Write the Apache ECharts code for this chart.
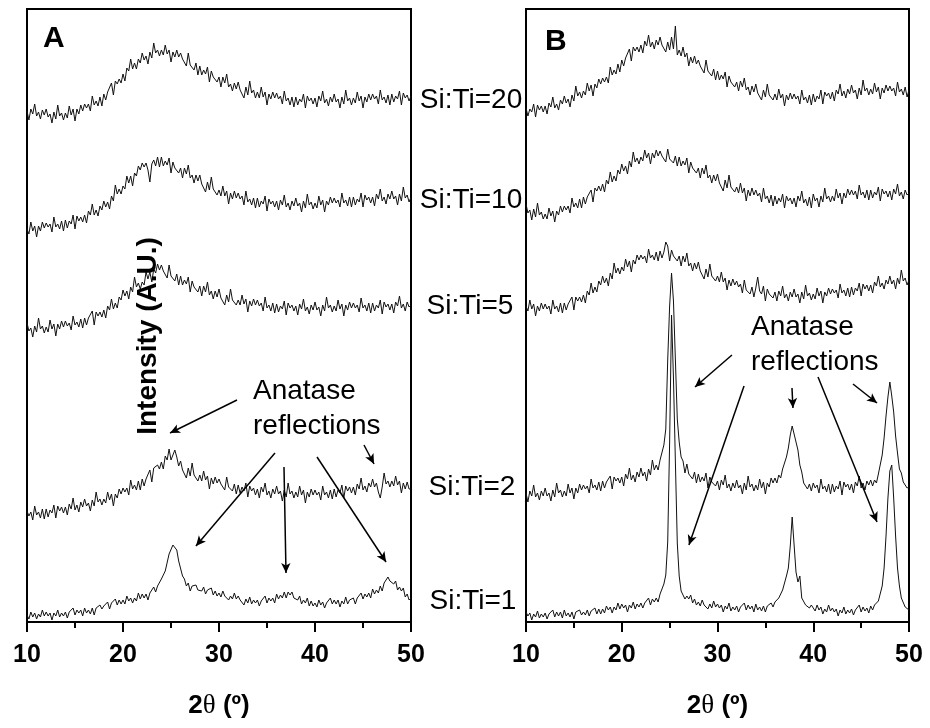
<!DOCTYPE html>
<html>
<head>
<meta charset="utf-8">
<script src="https://cdn.jsdelivr.net/npm/echarts@6.0.0/dist/echarts.min.js"></script>
<style>
  html, body { margin: 0; padding: 0; background: #fff; }
  #chart { width: 930px; height: 728px; }
</style>
</head>
<body>
<div id="chart"></div>
<script>
// XRD patterns, 2θ from 10° to 50° in 0.2° steps; intensities in arbitrary units
// (each curve already carries its vertical stacking offset).
const ANGLE_START = 10;
const ANGLE_STEP = 0.2;
const xTicks = [10, 20, 30, 40, 50];

// ---- Panel A ----
const aSiTi20 = [
  511,502,513,508,518,506,510,503,512,507,
  513,505,508,499,510,503,517,506,509,502,
  509,504,516,507,513,501,513,508,517,511,
  518,514,518,511,526,517,521,516,525,516,
  528,522,530,529,539,527,541,538,543,539,
  548,541,554,551,563,553,559,553,563,559,
  569,562,566,558,570,564,579,569,572,566,
  572,567,577,568,572,560,570,565,572,565,
  569,563,565,556,569,557,559,552,559,547,
  556,547,552,548,555,540,551,545,547,540,
  545,535,545,539,548,535,538,531,539,533,
  540,532,534,524,535,527,541,529,532,524,
  530,524,535,525,530,517,528,523,530,524,
  529,523,526,518,531,521,524,517,525,515,
  525,517,523,520,528,514,526,521,524,518,
  524,515,526,521,531,519,523,516,525,520,
  528,520,523,514,525,518,532,521,524,517,
  524,519,530,521,526,514,525,520,528,522,
  528,523,526,518,532,522,525,519,527,517,
  528,520,526,523,531,517,529,524,527,521,
  526
];
const aSiTi10 = [
  393,388,400,391,396,385,396,391,400,394,
  399,395,398,390,405,395,398,393,401,391,
  402,394,401,398,407,393,406,401,405,400,
  407,399,411,407,418,407,412,406,416,412,
  421,415,420,413,426,421,437,428,433,428,
  436,433,446,439,446,436,449,446,456,452,
  459,455,459,452,440,458,462,456,465,455,
  465,456,461,457,464,449,460,454,456,449,
  454,444,454,448,457,444,447,439,447,441,
  447,438,440,430,440,432,445,433,435,427,
  432,426,436,426,431,418,429,423,431,424,
  429,423,426,417,431,420,423,417,424,414,
  424,415,421,418,426,411,423,418,421,415,
  421,412,422,417,427,415,419,412,421,416,
  424,416,419,410,421,414,428,417,420,413,
  419,414,426,417,422,410,421,417,425,419,
  424,419,422,415,429,419,422,416,425,415,
  425,417,423,420,429,415,427,422,425,419,
  425,416,428,423,433,421,425,418,428,423,
  431,423,426,417,428,421,435,424,427,420,
  425
];
const aSiTi5 = [
  299,291,294,285,296,290,304,293,296,289,
  295,290,302,293,298,286,298,293,301,295,
  301,296,299,292,306,297,300,295,303,294,
  304,297,304,302,311,297,310,306,310,305,
  312,304,316,312,323,313,319,314,325,322,
  332,326,331,323,335,330,345,335,339,333,
  340,337,350,343,350,340,353,349,358,352,
  357,351,353,344,357,346,348,341,348,337,
  346,337,342,338,345,330,341,335,337,330,
  336,326,336,330,340,327,331,323,331,325,
  333,324,326,317,327,320,333,322,324,317,
  322,317,327,318,323,310,321,316,323,317,
  322,316,319,311,325,314,317,311,319,309,
  318,310,316,313,321,307,319,314,317,311,
  316,307,318,313,323,311,315,308,317,312,
  320,312,315,306,317,311,325,314,317,310,
  316,311,322,313,318,306,317,312,320,314,
  319,314,317,310,324,314,317,311,319,309,
  319,311,317,314,322,308,320,315,318,312,
  318,309,320,316,326,314,318,311,320,315,
  317
];
const aSiTi2 = [
  111,106,110,102,116,107,110,104,113,103,
  113,105,112,109,117,104,116,111,115,109,
  115,107,118,113,124,112,117,110,120,115,
  123,116,119,111,122,116,130,120,123,117,
  123,119,130,122,128,116,128,124,133,128,
  134,130,134,127,142,133,137,132,141,132,
  143,136,143,142,152,140,154,152,157,153,
  160,153,166,162,173,162,167,172,165,156,
  161,152,154,144,154,146,159,147,149,141,
  147,141,151,142,146,133,144,138,145,139,
  143,138,140,132,145,135,137,131,138,128,
  137,129,135,131,139,125,136,131,134,127,
  133,124,135,130,139,127,131,124,133,128,
  136,128,131,121,132,125,139,128,131,124,
  130,125,136,127,132,119,130,125,133,127,
  132,127,130,122,136,127,130,124,132,123,
  133,125,132,129,137,124,136,131,135,129,
  135,127,138,133,144,132,136,130,139,135,
  143,135,139,130,124,135,149,138,141,135,
  141,136,146,137,141,129,139,133,140,133,
  133
];
const aSiTi1 = [
  7,3,10,5,9,3,8,5,12,6,
  10,6,9,2,9,6,12,5,9,6,
  10,4,10,8,14,7,12,9,12,6,
  14,9,12,8,14,7,14,12,17,13,
  16,14,20,13,19,18,23,17,22,18,
  22,18,26,21,24,19,24,21,29,23,
  28,24,28,22,29,27,35,30,36,36,
  43,42,51,53,68,70,77,79,72,61,
  60,46,43,36,39,31,36,34,37,32,
  34,31,35,28,32,30,34,27,31,26,
  29,25,31,26,28,22,26,23,29,23,
  26,22,24,17,23,19,25,18,22,19,
  22,16,21,19,26,19,24,21,24,19,
  28,23,27,24,30,24,30,27,30,24,
  26,22,26,18,22,19,24,16,21,16,
  19,15,22,17,20,14,19,17,24,18,
  22,18,22,15,21,18,25,18,22,20,
  24,18,24,22,29,23,28,25,29,24,
  33,28,32,29,36,31,39,39,45,41,
  43,38,41,32,35,31,34,25,28,22,
  24
];

// ---- Panel B ----
const bSiTi20 = [
  514,506,513,510,518,505,517,512,516,510,
  516,508,519,515,525,514,518,512,522,518,
  526,519,523,515,527,521,536,526,530,524,
  531,527,539,531,537,526,538,534,543,538,
  544,540,545,539,555,547,552,548,558,550,
  562,556,564,563,573,561,575,571,575,570,
  577,569,581,576,587,575,580,573,582,577,
  585,577,579,570,580,572,585,573,596,567,
  572,566,575,565,569,556,565,559,566,558,
  562,556,558,549,562,551,553,546,553,542,
  551,542,547,543,550,535,546,540,542,535,
  540,531,541,535,544,532,535,527,536,530,
  538,529,531,522,532,525,538,527,529,522,
  528,522,533,524,528,516,527,522,529,523,
  528,523,526,518,532,522,525,519,527,517,
  528,520,526,523,532,518,530,526,529,523,
  530,521,532,528,538,526,531,524,533,528,
  537,529,532,523,534,527,542,531,534,527,
  533,528,539,530,535,523,534,529,537,531,
  536,531,534,526,540,530,533,527,535,525,
  532
];
const bSiTi10 = [
  418,409,412,402,413,405,419,407,410,403,
  408,403,414,406,411,400,411,407,416,410,
  416,412,416,409,424,415,419,414,423,414,
  425,418,425,423,432,420,434,431,436,431,
  438,430,442,438,450,440,446,441,452,448,
  458,451,456,448,461,455,470,460,464,458,
  465,461,472,464,469,458,469,464,472,466,
  471,466,468,460,473,463,465,459,466,456,
  465,456,461,457,464,449,460,454,456,449,
  454,444,454,448,457,444,447,439,447,441,
  448,439,441,431,442,434,447,435,437,430,
  435,429,439,429,434,421,432,426,434,427,
  432,426,429,420,434,423,426,419,427,416,
  426,418,424,420,428,414,426,421,424,418,
  424,415,426,421,431,419,423,416,425,414,
  428,421,424,415,426,420,434,423,426,420,
  426,421,433,424,429,418,429,424,433,427,
  432,427,431,423,437,427,430,424,432,422,
  432,424,430,427,435,421,433,428,431,425,
  431,422,433,428,438,426,430,423,432,427,
  429
];
const bSiTi5 = [
  316,311,322,313,318,306,316,311,319,313,
  318,313,316,308,322,313,316,310,319,309,
  319,312,318,316,325,312,325,321,325,320,
  327,319,331,327,339,329,335,330,341,337,
  346,339,344,336,349,343,359,349,354,348,
  355,351,363,355,361,350,362,358,367,362,
  367,363,366,359,373,364,367,362,370,361,
  371,364,370,380,376,361,372,366,368,361,
  366,356,366,360,369,356,359,351,359,353,
  360,351,353,343,353,345,358,346,348,341,
  346,340,350,340,344,332,342,336,343,337,
  341,335,338,329,342,332,334,328,335,325,
  334,345,331,328,336,321,333,328,330,324,
  330,321,331,326,336,324,328,321,330,325,
  333,325,328,319,330,323,337,326,329,322,
  328,323,334,326,331,319,330,326,334,328,
  333,329,332,324,338,329,332,326,334,325,
  335,327,334,331,339,326,338,333,337,331,
  337,329,340,336,346,335,339,333,342,338,
  346,338,342,333,344,338,352,341,344,337,
  342
];
const bSiTi2 = [
  129,120,131,126,137,125,129,122,131,126,
  134,126,129,121,132,125,139,129,132,125,
  131,126,138,129,134,123,134,129,138,132,
  137,133,136,129,143,134,137,132,140,131,
  141,134,140,138,146,133,145,141,144,139,
  145,136,148,143,154,142,147,140,150,145,
  154,146,150,141,153,147,162,152,157,152,
  162,164,177,193,262,316,349,321,263,203,
  180,165,161,149,158,148,150,143,150,139,
  148,140,145,141,149,134,145,140,142,136,
  141,132,142,137,147,134,138,131,139,134,
  142,134,137,128,139,132,146,135,138,131,
  137,132,143,134,140,128,139,135,144,139,
  144,139,147,144,153,154,165,174,187,196,
  195,180,172,157,150,139,140,133,138,131,
  139,134,137,129,143,133,136,130,138,128,
  138,130,136,133,141,127,140,135,138,132,
  138,129,140,136,146,134,139,132,141,137,
  142,136,142,139,148,150,167,184,206,225,
  240,226,210,186,169,153,149,140,141,134,
  135
];
const bSiTi1 = [
  10,6,9,2,8,5,11,4,8,5,
  9,3,8,6,12,5,10,6,10,4,
  12,6,9,5,10,3,10,8,12,7,
  10,7,12,6,11,9,14,8,13,8,
  13,9,16,12,15,9,15,12,19,13,
  18,14,17,10,17,14,20,13,18,15,
  19,14,19,17,24,17,23,20,24,20,
  28,29,38,47,80,180,307,244,161,79,
  46,31,32,23,26,23,27,19,23,17,
  20,16,22,17,19,13,18,14,21,15,
  18,14,17,10,16,13,19,11,15,12,
  16,10,15,13,19,12,17,13,16,10,
  18,12,15,11,16,10,16,14,19,15,
  20,18,24,24,32,32,46,54,76,105,
  77,50,40,46,24,22,17,19,14,17,
  15,11,17,12,15,8,13,10,17,11,
  14,10,13,6,12,9,15,8,12,9,
  13,7,12,10,17,10,15,11,14,9,
  16,12,17,15,21,22,36,54,86,124,
  151,157,124,86,54,36,24,22,15,13,
  12
];

const sampleLabels = ['Si:Ti=20', 'Si:Ti=10', 'Si:Ti=5', 'Si:Ti=2', 'Si:Ti=1'];

// Annotation arrows, [2θ, intensity] start -> end
const arrowsA = [
  [[35.83, 169], [27.6, 76]],
  [[36.77, 155], [36.98, 49]],
  [[40.21, 165], [47.4, 60]],
  [[45.1, 177], [46.15, 158]]
];
const curvedArrowA = [[31.875, 222], [24.9, 189]];
const arrowsB = [
  [[31.51, 267], [27.65, 235]],
  [[32.77, 236], [27.02, 77]],
  [[37.78, 234], [37.88, 214]],
  [[40.5, 245], [46.66, 100]],
  [[44.15, 238], [46.66, 219]]
];

const angles = aSiTi20.map((_, i) => +(ANGLE_START + i * ANGLE_STEP).toFixed(1));

const SANS = '"Liberation Sans", Arial, Helvetica, sans-serif';
const SERIF = '"Liberation Serif", "DejaVu Serif", serif';

function trace(values, idx) {
  return {
    type: 'line',
    xAxisIndex: idx,
    yAxisIndex: idx,
    data: values.map((v, i) => [angles[i], v]),
    showSymbol: false,
    symbol: 'none',
    silent: true,
    lineStyle: { color: '#111', width: 1 },
    z: 2
  };
}

function arrowLines(list) {
  return list.map(p => [{ coord: p[0] }, { coord: p[1] }]);
}

function xAxisFor(idx) {
  return {
    type: 'value',
    gridIndex: idx,
    min: xTicks[0],
    max: xTicks[xTicks.length - 1],
    interval: xTicks[1] - xTicks[0],
    axisLine: { show: true, lineStyle: { color: '#000', width: 2 } },
    axisTick: { show: true, length: 10, lineStyle: { color: '#000', width: 2 } },
    minorTick: { show: true, splitNumber: 2, length: 6, lineStyle: { color: '#000', width: 2 } },
    splitLine: { show: false },
    minorSplitLine: { show: false },
    axisLabel: {
      color: '#000', fontSize: 25, fontWeight: 'bold', fontFamily: SANS,
      margin: 21, showMinLabel: true, showMaxLabel: true
    },
    name: '{b|2}{t|θ}{b| (º)}',
    nameLocation: 'middle',
    nameGap: 70,
    nameTextStyle: {
      rich: {
        b: { fontSize: 26, fontWeight: 'bold', fontFamily: SANS, color: '#000' },
        t: { fontSize: 27, fontFamily: SERIF, color: '#000' }
      }
    }
  };
}

function yAxisFor(idx) {
  return { type: 'value', gridIndex: idx, min: 0, max: 613, show: false };
}

const markStyle = { color: '#000', width: 1.5, type: 'solid' };

const seriesA = [aSiTi20, aSiTi10, aSiTi5, aSiTi2, aSiTi1].map(v => trace(v, 0));
const seriesB = [bSiTi20, bSiTi10, bSiTi5, bSiTi2, bSiTi1].map(v => trace(v, 1));

seriesA[0].markLine = {
  silent: true,
  symbol: ['none', 'arrow'],
  symbolSize: [7, 10],
  label: { show: false },
  lineStyle: markStyle,
  data: arrowLines(arrowsA).concat([[
    { coord: curvedArrowA[0], lineStyle: { curveness: -0.3 } },
    { coord: curvedArrowA[1] }
  ]])
};
seriesB[0].markLine = {
  silent: true,
  symbol: ['none', 'arrow'],
  symbolSize: [7, 10],
  label: { show: false },
  lineStyle: markStyle,
  data: arrowLines(arrowsB)
};

function label(text, x, y, opts) {
  return {
    type: 'text', x: x, y: y, z: 10, silent: true,
    style: Object.assign({
      text: text, fill: '#000', fontSize: 28, fontFamily: SANS,
      align: 'center', verticalAlign: 'middle'
    }, opts || {})
  };
}

const labelPos = [[471, 100], [471, 200], [470, 306], [472, 487], [473, 601]];

const graphics = [
  label('A', 43, 39, { fontSize: 30, fontWeight: 'bold', align: 'left' }),
  label('B', 545, 42, { fontSize: 30, fontWeight: 'bold', align: 'left' }),
  label('Anatase', 253, 391, { align: 'left' }),
  label('reflections', 253, 426, { align: 'left' }),
  label('Anatase', 751, 327, { align: 'left' }),
  label('reflections', 751, 362, { align: 'left' }),
  Object.assign(label('Intensity (A.U.)', 148, 336, { fontWeight: 'bold' }), { rotation: Math.PI / 2 })
].concat(sampleLabels.map((t, i) => label(t, labelPos[i][0], labelPos[i][1])));

const chart = echarts.init(document.getElementById('chart'), null, { renderer: 'canvas' });
chart.setOption({
  animation: false,
  backgroundColor: '#fff',
  grid: [
    { left: 27, right: 519, top: 9, bottom: 106, show: true, borderColor: '#000', borderWidth: 2, backgroundColor: 'transparent' },
    { left: 526, right: 21, top: 9, bottom: 106, show: true, borderColor: '#000', borderWidth: 2, backgroundColor: 'transparent' }
  ],
  xAxis: [xAxisFor(0), xAxisFor(1)],
  yAxis: [yAxisFor(0), yAxisFor(1)],
  series: seriesA.concat(seriesB),
  graphic: graphics
});
</script>
</body>
</html>
